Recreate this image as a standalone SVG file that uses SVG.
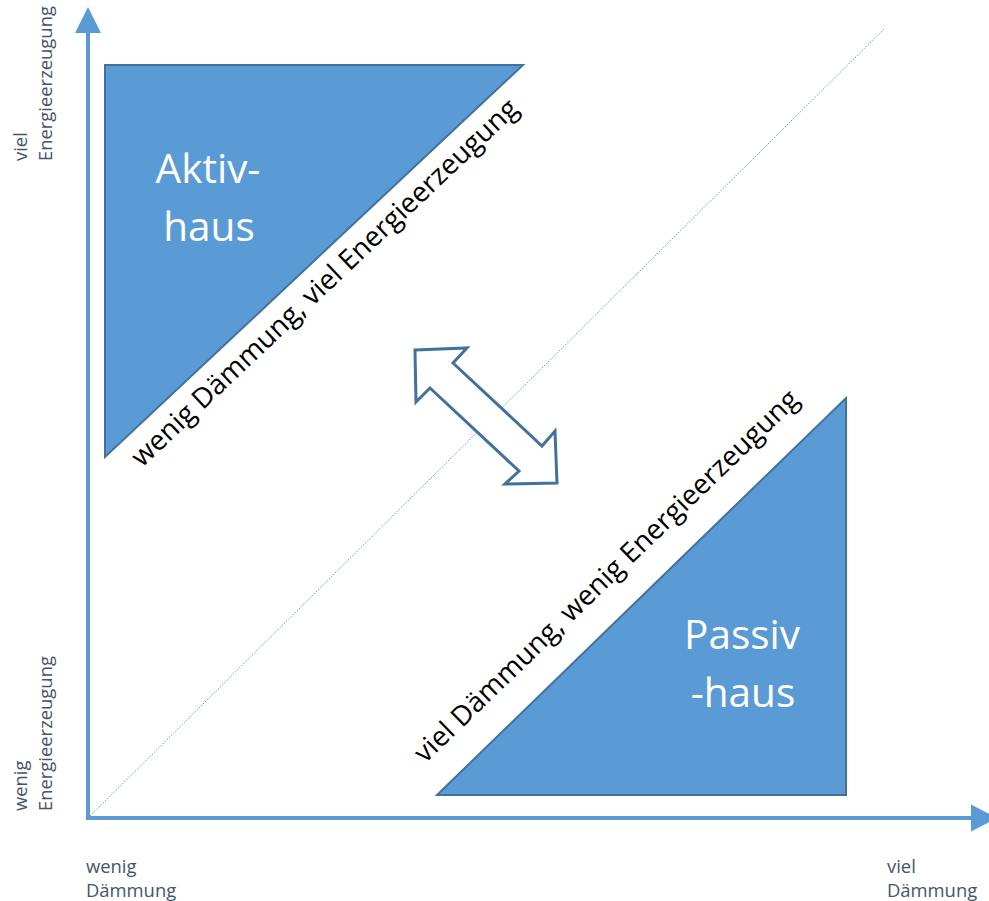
<svg xmlns="http://www.w3.org/2000/svg" width="989" height="901" viewBox="0 0 989 901">
<style>
.axis{stroke:#5b9bd5;stroke-width:4;fill:none}
.head{fill:#5b9bd5}
.diag{stroke:#5b9bd5;stroke-width:1;stroke-dasharray:1.5 1.5;fill:none}
.tri{fill:#5b9bd5;stroke:#41719c;stroke-width:2}
.big{font-family:"Open Sans","Liberation Sans",sans-serif;font-size:40.5px;fill:#ffffff;text-anchor:middle}
.hyp{font-family:"Open Sans","Liberation Sans",sans-serif;font-size:27.7px;fill:#000000}
.lab{font-family:"Open Sans","Liberation Sans",sans-serif;font-size:18.4px;fill:#44546a}
.dbl{fill:#ffffff;stroke:#41719c;stroke-width:3;stroke-linejoin:miter}
</style>
<rect width="989" height="901" fill="#ffffff"/>
<g id="connectors">
  <line class="diag" x1="88" y1="818" x2="885" y2="28"/>
  <line class="axis" x1="88" y1="820" x2="88" y2="30"/>
  <polygon class="head" points="88,7 101,33 75,33"/>
  <line class="axis" x1="86" y1="818" x2="973" y2="818"/>
  <polygon class="head" points="997,818 971,804.5 971,831.5"/>
  <polygon id="double-arrow" class="dbl" points="415,350 467,348 453,363 542,446 555,431 557,483 505,484 519,471 430,388 416,402"/>
</g>
<g id="aktivhaus">
  <polygon class="tri" points="105,65 523,65 105,457"/>
  <text class="big" x="208" y="183">Aktiv-</text>
  <text class="big" x="209" y="241">haus</text>
  <text class="hyp" transform="translate(142,468) rotate(-43.4)" textLength="520">wenig Dämmung, viel Energieerzeugung</text>
</g>
<g id="passivhaus">
  <polygon class="tri" points="846,398 846,795 437,795"/>
  <text class="big" x="742" y="649">Passiv</text>
  <text class="big" x="743" y="707">-haus</text>
  <text class="hyp" transform="translate(425,764) rotate(-44)" textLength="522">viel Dämmung, wenig Energieerzeugung</text>
</g>
<g id="y-label-top">
  <text class="lab" transform="translate(27,161) rotate(-90)"><tspan x="0" y="0">viel</tspan><tspan x="0" y="25">Energieerzeugung</tspan></text>
</g>
<g id="y-label-bottom">
  <text class="lab" transform="translate(27,811) rotate(-90)"><tspan x="0" y="0">wenig</tspan><tspan x="0" y="25">Energieerzeugung</tspan></text>
</g>
<g id="x-label-left">
  <text class="lab"><tspan x="86" y="873">wenig</tspan><tspan x="86" y="897">Dämmung</tspan></text>
</g>
<g id="x-label-right">
  <text class="lab"><tspan x="887" y="873">viel</tspan><tspan x="887" y="897">Dämmung</tspan></text>
</g>
</svg>
